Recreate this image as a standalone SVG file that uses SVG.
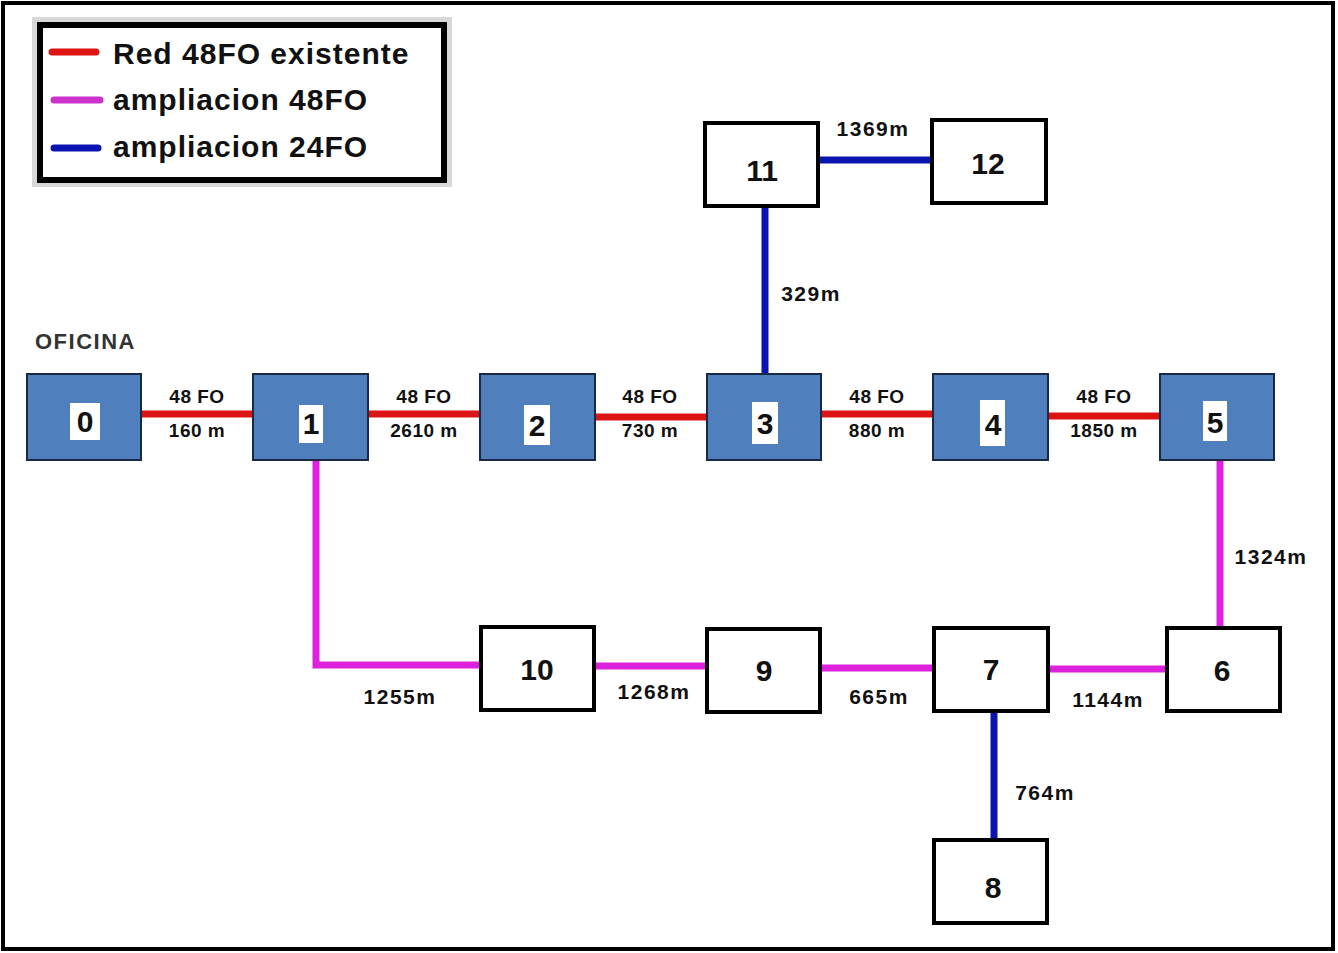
<svg xmlns="http://www.w3.org/2000/svg" width="1338" height="953" viewBox="0 0 1338 953">
<style>
.frame{fill:#fff;stroke:#000;stroke-width:4}
.bn rect.b{fill:#4f7fbd;stroke:#1b2a44;stroke-width:2}
.bn rect.w{fill:#fff}
.wn rect{fill:#fff;stroke:#000;stroke-width:4}
.num{font-family:"Liberation Sans",Arial,sans-serif;font-weight:bold;font-size:30px;fill:#111;text-anchor:middle}
.lbl{font-family:"Liberation Sans",Arial,sans-serif;font-weight:bold;font-size:21px;fill:#111;text-anchor:middle;letter-spacing:1.5px}
.sl{font-family:"Liberation Sans",Arial,sans-serif;font-weight:bold;font-size:19px;fill:#111;text-anchor:middle;letter-spacing:0.5px}
.leg{font-family:"Liberation Sans",Arial,sans-serif;font-weight:bold;font-size:30px;fill:#111;letter-spacing:1px}
.red{stroke:#dc1414;stroke-width:7;fill:none}
.mag{stroke:#dd22dd;stroke-width:7;fill:none}
.blu{stroke:#0b14b0;stroke-width:7;fill:none}
</style>
<rect class="frame" x="3" y="3" width="1330" height="946"/>
<g id="legend">
<rect x="32" y="17" width="420" height="170" fill="#d8d8d8"/>
<rect x="40" y="25" width="404" height="155" fill="#fff" stroke="#000" stroke-width="6"/>
<line x1="52" y1="52" x2="96" y2="52" stroke="#dc1414" stroke-width="7" stroke-linecap="round"/>
<line x1="54" y1="100" x2="100" y2="100" stroke="#cc33cc" stroke-width="7" stroke-linecap="round"/>
<line x1="54" y1="148" x2="98" y2="148" stroke="#0b14b0" stroke-width="7" stroke-linecap="round"/>
<text class="leg" x="113" y="64">Red 48FO existente</text>
<text class="leg" x="113" y="110">ampliacion 48FO</text>
<text class="leg" x="113" y="157">ampliacion 24FO</text>
</g>
<text x="35" y="349" font-family="Liberation Sans, Arial, sans-serif" font-weight="bold" font-size="22" letter-spacing="1.5" fill="#333">OFICINA</text>
<g id="connectors">
<line class="red" x1="141" y1="414" x2="253" y2="414"/>
<line class="red" x1="368" y1="414" x2="480" y2="414"/>
<line class="red" x1="595" y1="417" x2="707" y2="417"/>
<line class="red" x1="821" y1="414" x2="933" y2="414"/>
<line class="red" x1="1048" y1="416" x2="1160" y2="416"/>
<line class="blu" x1="765" y1="206" x2="765" y2="374"/>
<line class="blu" x1="818" y1="160" x2="932" y2="160"/>
<polyline class="mag" points="316,460 316,665 480,665"/>
<line class="mag" x1="594" y1="666" x2="706" y2="666"/>
<line class="mag" x1="820" y1="668" x2="933" y2="668"/>
<line class="mag" x1="1048" y1="669" x2="1166" y2="669"/>
<line class="mag" x1="1220" y1="460" x2="1220" y2="627"/>
<line class="blu" x1="994" y1="711" x2="994" y2="839"/>
<text class="sl" x="197" y="403">48 FO</text><text class="sl" x="197" y="437">160 m</text>
<text class="sl" x="424" y="403">48 FO</text><text class="sl" x="424" y="437">2610 m</text>
<text class="sl" x="650" y="403">48 FO</text><text class="sl" x="650" y="437">730 m</text>
<text class="sl" x="877" y="403">48 FO</text><text class="sl" x="877" y="437">880 m</text>
<text class="sl" x="1104" y="403">48 FO</text><text class="sl" x="1104" y="437">1850 m</text>
<text class="lbl" x="873" y="136">1369m</text>
<text class="lbl" x="811" y="301">329m</text>
<text class="lbl" x="400" y="704">1255m</text>
<text class="lbl" x="654" y="699">1268m</text>
<text class="lbl" x="879" y="704">665m</text>
<text class="lbl" x="1108" y="707">1144m</text>
<text class="lbl" x="1271" y="564">1324m</text>
<text class="lbl" x="1045" y="800">764m</text>
</g>
<g id="n0" class="bn"><rect class="b" x="27" y="374" width="114" height="86"/><rect class="w" x="70" y="403" width="30" height="37"/><text class="num" x="85" y="432">0</text></g>
<g id="n1" class="bn"><rect class="b" x="253" y="374" width="115" height="86"/><rect class="w" x="299" y="405" width="24" height="38"/><text class="num" x="311" y="434">1</text></g>
<g id="n2" class="bn"><rect class="b" x="480" y="374" width="115" height="86"/><rect class="w" x="524" y="405" width="26" height="40"/><text class="num" x="537" y="436">2</text></g>
<g id="n3" class="bn"><rect class="b" x="707" y="374" width="114" height="86"/><rect class="w" x="752" y="402" width="26" height="42"/><text class="num" x="765" y="434">3</text></g>
<g id="n4" class="bn"><rect class="b" x="933" y="374" width="115" height="86"/><rect class="w" x="980" y="400" width="25" height="46"/><text class="num" x="993" y="435">4</text></g>
<g id="n5" class="bn"><rect class="b" x="1160" y="374" width="114" height="86"/><rect class="w" x="1203" y="401" width="24" height="40"/><text class="num" x="1215" y="433">5</text></g>
<g id="n6" class="wn"><rect x="1167" y="628" width="113" height="83"/><text class="num" x="1222" y="681">6</text></g>
<g id="n7" class="wn"><rect x="934" y="628" width="114" height="83"/><text class="num" x="991" y="680">7</text></g>
<g id="n8" class="wn"><rect x="934" y="840" width="113" height="83"/><text class="num" x="993" y="898">8</text></g>
<g id="n9" class="wn"><rect x="707" y="629" width="113" height="83"/><text class="num" x="764" y="681">9</text></g>
<g id="n10" class="wn"><rect x="481" y="627" width="113" height="83"/><text class="num" x="537" y="680">10</text></g>
<g id="n11" class="wn"><rect x="705" y="123" width="113" height="83"/><text class="num" x="762" y="181">11</text></g>
<g id="n12" class="wn"><rect x="932" y="120" width="114" height="83"/><text class="num" x="988" y="174">12</text></g>
</svg>
